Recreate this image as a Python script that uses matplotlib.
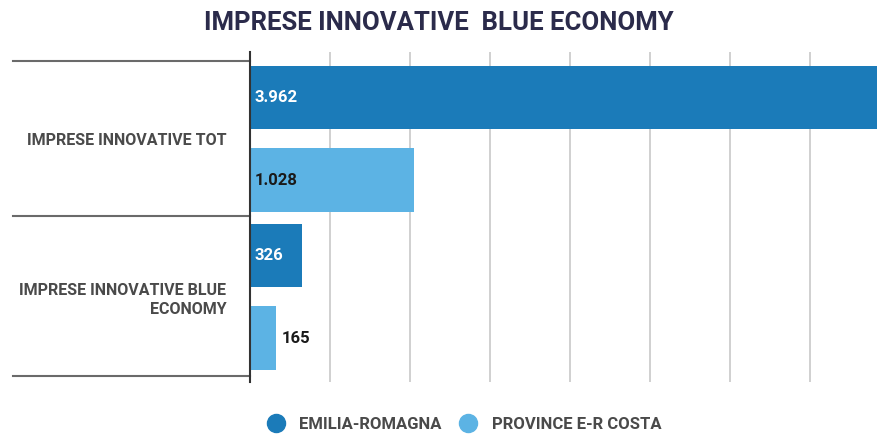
import matplotlib.pyplot as plt
from matplotlib.lines import Line2D

# Dati
categorie = ['IMPRESE INNOVATIVE TOT', 'IMPRESE INNOVATIVE BLUE\nECONOMY']
serie = ['EMILIA-ROMAGNA', 'PROVINCE E-R COSTA']
emilia_romagna = [3962, 326]
province_costa = [1028, 165]

colori = ['#1b7bb9', '#5cb3e4']
testo_etichette = ['white', '#1a1a1a']

plt.rcParams['font.family'] = ['Roboto', 'DejaVu Sans']

fig = plt.figure(figsize=(8.78, 4.36), dpi=100)
ax = fig.add_axes([250 / 878, 1 - 382 / 436, 1 - 250 / 878, 330 / 436])

valori = [emilia_romagna, province_costa]
offset = [-0.26, 0.26]
for s in range(len(serie)):
    pos = [i + offset[s] for i in range(len(categorie))]
    ax.barh(pos, valori[s], height=0.4, color=colori[s], label=serie[s], zorder=2)
    for y, v in zip(pos, valori[s]):
        txt = f"{v:,}".replace(",", ".")
        if v < 250:
            ax.text(v + 30, y, txt, va='center', ha='left', color='#1a1a1a',
                    fontsize=12, fontweight='bold', zorder=3)
        else:
            ax.text(30, y, txt, va='center', ha='left', color=testo_etichette[s],
                    fontsize=12, fontweight='bold', zorder=3)

ax.set_xlim(0, 3925)
ax.set_ylim(1.538, -0.55)
ax.set_xticks(range(500, 4000, 500))
ax.set_xticklabels([])
ax.tick_params(axis='x', length=0)
ax.grid(axis='x', color='#c8c8c8', linewidth=1.2, zorder=0)

ax.set_yticks(range(len(categorie)))
ax.set_yticklabels(categorie, fontsize=11.5, fontweight='bold', color='#4a4a4a',
                   linespacing=1.3)
ax.tick_params(axis='y', length=0, pad=17)

for s in ['top', 'right', 'bottom']:
    ax.spines[s].set_visible(False)
ax.spines['left'].set_color('#333333')
ax.spines['left'].set_linewidth(1.5)

# linee di separazione delle categorie
for yy in [-0.49, 0.49, 1.5]:
    ax.plot([-0.377, 0], [yy, yy], color='#6a6a6a', linewidth=1.5,
            transform=ax.get_yaxis_transform(), clip_on=False, zorder=1)

fig.text(0.5, 0.947, 'IMPRESE INNOVATIVE  BLUE ECONOMY', ha='center', va='center',
         fontsize=18.5, fontweight='bold', color='#2b2b4b')

handles = [Line2D([], [], marker='o', linestyle='', markersize=13, color=c) for c in colori]
fig.legend(handles, serie, loc='center', bbox_to_anchor=(0.524, 0.026), ncol=2,
           frameon=False, handletextpad=0.4, columnspacing=0.6,
           labelcolor='#4a4a4a', prop={'weight': 'bold', 'size': 12})

plt.savefig('out.png', dpi=100)
